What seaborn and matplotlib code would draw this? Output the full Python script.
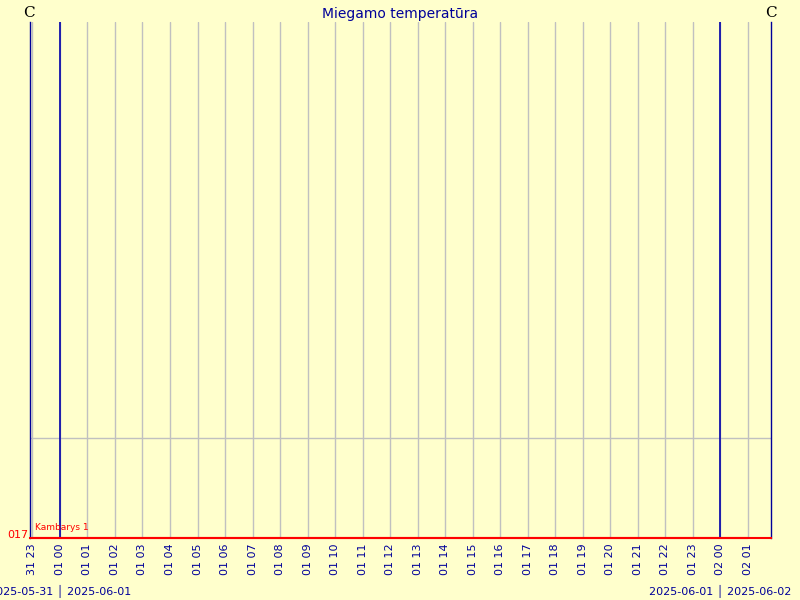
import pandas as pd
import matplotlib
matplotlib.use("Agg")
import matplotlib.pyplot as plt
import matplotlib.transforms as mtransforms
import seaborn as sns

# hours relative to 2025-06-01 00:00
hours = list(range(-1, 26))
temps = [17.0] * len(hours)
tick_labels = ["31 23"] + [f"01 {h:02d}" for h in range(24)] + ["02 00", "02 01"]
midnights = [0, 24]
day_labels = ["2025-05-31 \u2502 2025-06-01", "2025-06-01 \u2502 2025-06-02"]
series_name = "Kambarys 1"
title = "Miegamo temperatūra"

bg = "#FFFFCC"
navy = "#000099"

sns.set_theme(style="white")
plt.rcParams["font.family"] = ["DejaVu Sans"]

fig = plt.figure(figsize=(8, 6), dpi=100, facecolor=bg)
ax = fig.add_axes([30 / 800, 62 / 600, 741 / 800, 516 / 600])
ax.set_facecolor(bg)

df = pd.DataFrame({"hour": hours, "temp": temps})

ax.set_xlim(-1.09, 25.85)
ax.set_ylim(17, 22.16)

for h in hours:
    ax.axvline(h, color="#C0C0C0", lw=1, zorder=0)
ax.axhline(18, color="#C0C0C0", lw=1, zorder=0)
for m in midnights:
    ax.axvline(m, color="#0000AA", lw=1.2, zorder=1)

sns.lineplot(data=df, x="hour", y="temp", ax=ax, color="red", lw=1.5,
             clip_on=False, zorder=3)

ax.spines["top"].set_visible(False)
ax.spines["left"].set_color(navy)
ax.spines["right"].set_color(navy)
ax.spines["bottom"].set_color("red")
ax.spines["left"].set_linewidth(1)
ax.spines["right"].set_linewidth(1)
ax.spines["bottom"].set_linewidth(1.5)

ax.set_xticks(hours)
ax.set_xticklabels(tick_labels, rotation=90, color=navy, fontsize=8,
                   va="top", ha="center")
ax.tick_params(axis="x", length=0, pad=4)
ax.set_yticks([])
ax.set_xlabel("")
ax.set_ylabel("")

fig.text(0.5, 1 - 14 / 600, title, ha="center", va="center",
         color=navy, fontsize=10)
fig.text(29 / 800, 1 - 13 / 600, "C", ha="center", va="center",
         fontsize=11, color="black", family="DejaVu Serif")
fig.text(771 / 800, 1 - 13 / 600, "C", ha="center", va="center",
         fontsize=11, color="black", family="DejaVu Serif")

trans = mtransforms.blended_transform_factory(ax.transData, fig.transFigure)
for m, lab in zip(midnights, day_labels):
    ax.text(m, 1 - 591 / 600, lab, transform=trans, ha="center",
            va="center", color=navy, fontsize=8, clip_on=False)

ax.text(35 / 800, 1 - 527 / 600, series_name, transform=fig.transFigure,
        color="red", fontsize=6.5, va="center", ha="left")
ax.text(28 / 800, 1 - 535 / 600, "017", transform=fig.transFigure,
        color="red", fontsize=8, va="center", ha="right")

fig.savefig("out.png", dpi=100, facecolor=bg)
